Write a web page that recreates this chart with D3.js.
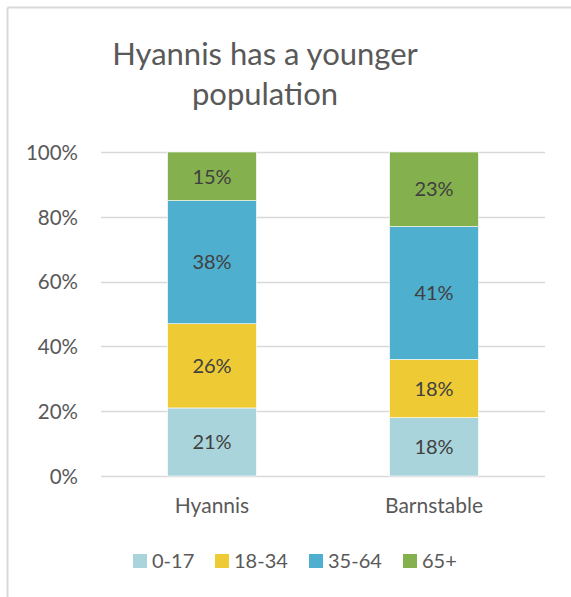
<!DOCTYPE html>
<html>
<head>
<meta charset="utf-8">
<script src="https://cdn.jsdelivr.net/npm/d3@7"></script>
<style>
  html, body { margin: 0; padding: 0; background: #fff; }
  svg { display: block; font-family: Lato, "Open Sans", sans-serif; }
</style>
</head>
<body>
<svg id="chart" width="571" height="597"></svg>
<script>
const titleLines = ["Hyannis has a younger", "population"];
const categories = ["Hyannis", "Barnstable"];
const seriesNames = ["0-17", "18-34", "35-64", "65+"];
const seriesColors = ["#A9D4DC", "#EECA35", "#4FAFCF", "#84B04E"];
const age0to17 = [21, 18];
const age18to34 = [26, 18];
const age35to64 = [38, 41];
const age65plus = [15, 23];
const yTicks = [0, 20, 40, 60, 80, 100];

const seriesValues = [age0to17, age18to34, age35to64, age65plus];
const table = categories.map((c, i) => {
  const row = { category: c };
  seriesNames.forEach((s, j) => { row[s] = seriesValues[j][i]; });
  return row;
});

const svg = d3.select("#chart");

// chart border (top & left visible)
svg.append("line").attr("x1", 7.5).attr("x2", 571).attr("y1", 7.5).attr("y2", 7.5)
  .attr("stroke", "#D9D9D9").attr("stroke-width", 2);
svg.append("line").attr("x1", 7.5).attr("x2", 7.5).attr("y1", 7.5).attr("y2", 597)
  .attr("stroke", "#D9D9D9").attr("stroke-width", 2);

// title
svg.append("text")
  .attr("x", 265).attr("y", 65)
  .attr("text-anchor", "middle")
  .attr("fill", "#595959")
  .attr("font-size", 31)
  .selectAll("tspan").data(titleLines).join("tspan")
  .attr("x", 265).attr("dy", (d, i) => i === 0 ? 0 : 40)
  .text(d => d);

const plot = { left: 101, right: 545, top: 152, bottom: 476 };

const x = d3.scaleBand().domain(categories).range([plot.left, plot.right])
  .paddingInner(0.6).paddingOuter(0.3);
const y = d3.scaleLinear().domain([0, 100]).range([plot.bottom, plot.top]);

// gridlines
svg.append("g").selectAll("line").data(yTicks).join("line")
  .attr("x1", plot.left).attr("x2", plot.right)
  .attr("y1", d => Math.round(y(d)) + 0.5).attr("y2", d => Math.round(y(d)) + 0.5)
  .attr("stroke", "#D9D9D9").attr("stroke-width", 1.5);

// y axis labels
const yAxis = d3.axisLeft(y).tickValues(yTicks).tickFormat(d => d + "%").tickSize(0).tickPadding(0);
const yg = svg.append("g").attr("transform", `translate(78,0)`).call(yAxis);
yg.select(".domain").remove();
yg.selectAll("text").attr("fill", "#595959").attr("font-size", 20.5)
  .attr("font-family", "Lato, 'Open Sans', sans-serif").attr("dy", "0.36em");

// stacked bars
const stack = d3.stack().keys(seriesNames);
const stacked = stack(table);
const color = d3.scaleOrdinal().domain(seriesNames).range(seriesColors);

const layers = svg.append("g").selectAll("g").data(stacked).join("g")
  .attr("fill", d => color(d.key));
layers.selectAll("rect").data(d => d).join("rect")
  .attr("x", d => x(d.data.category))
  .attr("width", x.bandwidth())
  .attr("y", d => y(d[1]))
  .attr("height", d => y(d[0]) - y(d[1]))
  .attr("stroke", "#fff").attr("stroke-width", 0.6);

// data labels
const labels = svg.append("g").selectAll("g").data(stacked).join("g");
labels.selectAll("text").data(d => d.map(v => ({ v, key: d.key }))).join("text")
  .attr("x", d => x(d.v.data.category) + x.bandwidth() / 2)
  .attr("y", d => (y(d.v[0]) + y(d.v[1])) / 2)
  .attr("dy", "0.36em")
  .attr("text-anchor", "middle")
  .attr("fill", "#404040")
  .attr("font-size", 20)
  .text(d => (d.v[1] - d.v[0]) + "%");

// x axis labels
const xAxis = d3.axisBottom(x).tickSize(0).tickPadding(0);
const xg = svg.append("g").attr("transform", `translate(0,${plot.bottom})`).call(xAxis);
xg.select(".domain").remove();
xg.selectAll("text").attr("fill", "#595959").attr("font-size", 21)
  .attr("font-family", "Lato, 'Open Sans', sans-serif")
  .attr("dy", null).attr("y", 37);

// legend
const legendX = [133, 215, 309, 403];
const legend = svg.append("g").selectAll("g").data(seriesNames).join("g")
  .attr("transform", (d, i) => `translate(${legendX[i]},554)`);
legend.append("rect").attr("width", 14).attr("height", 14).attr("fill", d => color(d));
legend.append("text").attr("x", 19).attr("y", 14)
  .attr("fill", "#595959").attr("font-size", 20).text(d => d);
</script>
</body>
</html>
